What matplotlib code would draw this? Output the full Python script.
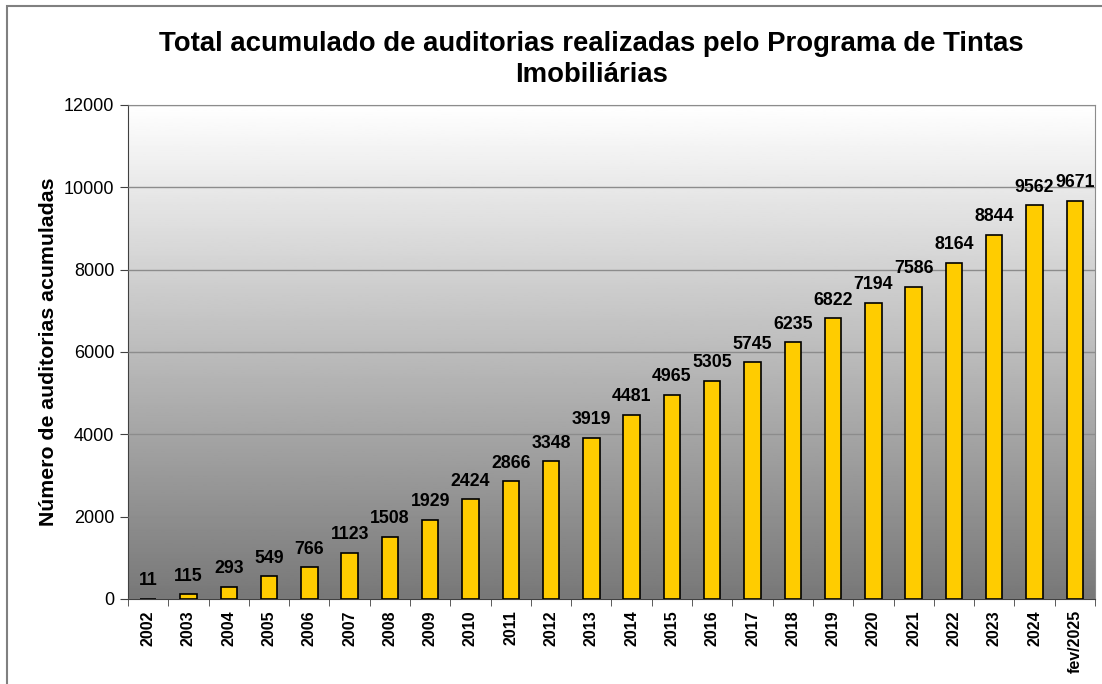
import numpy as np
import matplotlib
matplotlib.use("Agg")
import matplotlib.pyplot as plt
from matplotlib.patches import Rectangle

plt.rcParams["font.family"] = ["Liberation Sans", "DejaVu Sans"]

# data
anos = ["2002", "2003", "2004", "2005", "2006", "2007", "2008", "2009", "2010",
        "2011", "2012", "2013", "2014", "2015", "2016", "2017", "2018", "2019",
        "2020", "2021", "2022", "2023", "2024", "fev/2025"]
auditorias = [11, 115, 293, 549, 766, 1123, 1508, 1929, 2424, 2866, 3348, 3919,
              4481, 4965, 5305, 5745, 6235, 6822, 7194, 7586, 8164, 8844, 9562, 9671]
y_ticks = [0, 2000, 4000, 6000, 8000, 10000, 12000]

fig = plt.figure(figsize=(11.02, 6.84), dpi=100)
ax = fig.add_axes([0.1162, 0.1243, 0.8774, 0.7222])

# gray gradient background (white at top -> gray at bottom)
grad = np.linspace(1.0, 0.47, 256).reshape(-1, 1)
ax.imshow(grad, cmap="gray", vmin=0, vmax=1, aspect="auto",
          extent=[0, 1, 0, 1], transform=ax.transAxes, zorder=0)

x = np.arange(len(anos))
ax.bar(x, auditorias, width=0.41, color="#FFCC00", edgecolor="black",
       linewidth=1.2, zorder=3)

for xi, v in zip(x, auditorias):
    ax.text(xi, v + 230, str(v), ha="center", va="bottom",
            fontsize=12.8, fontweight="bold", zorder=4)

ax.set_xlim(-0.5, len(anos) - 0.5)
ax.set_ylim(0, 12000)
ax.set_yticks(y_ticks)
ax.set_yticklabels([str(t) for t in y_ticks], fontsize=13)
ax.yaxis.grid(True, color="#8c8c8c", linewidth=1.0, zorder=1)
ax.set_axisbelow(False)

ax.set_xticks(x)
ax.set_xticklabels(anos, rotation=90, fontsize=11.5, fontweight="bold")
ax.tick_params(axis="x", length=0, pad=8)
ax.set_xticks(np.arange(-0.5, len(anos)), minor=True)
ax.tick_params(axis="x", which="minor", length=5, color="#404040")
ax.tick_params(axis="y", length=6, color="#404040", pad=4)

for s in ["left", "bottom"]:
    ax.spines[s].set_color("#404040")
for s in ["top", "right"]:
    ax.spines[s].set_color("#8c8c8c")

ax.set_ylabel("Número de auditorias acumuladas", fontsize=15.3,
              fontweight="bold", labelpad=4)
fig.suptitle("Total acumulado de auditorias realizadas pelo Programa de Tintas\nImobiliárias",
             fontsize=19.8, fontweight="bold", x=0.537, y=0.955, linespacing=1.25)

# outer frame of the chart
fig.patches.append(Rectangle((7 / 1102, -0.1), 1.2, 0.1 + 1 - 6 / 684,
                             transform=fig.transFigure, fill=False,
                             edgecolor="#808080", linewidth=1.5))

fig.savefig("out.png", dpi=100)
